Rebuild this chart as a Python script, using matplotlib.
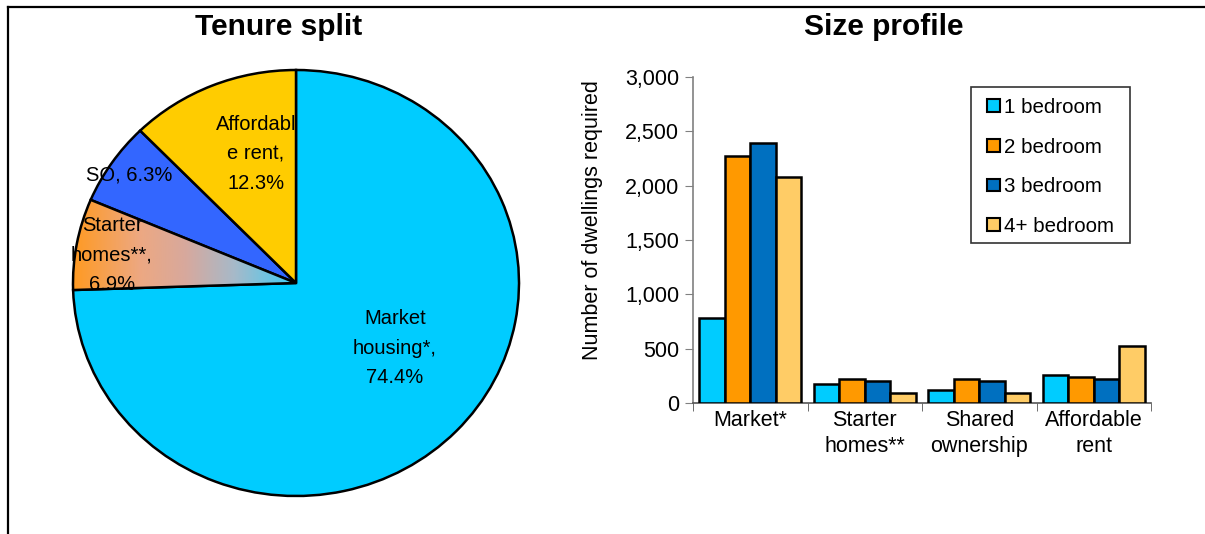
import numpy as np
import matplotlib
matplotlib.use("Agg")
import matplotlib.pyplot as plt
from matplotlib.colors import LinearSegmentedColormap
from matplotlib.patches import Patch, Rectangle
from matplotlib.lines import Line2D
from matplotlib.legend_handler import HandlerPatch

plt.rcParams['font.family'] = ['Liberation Sans', 'DejaVu Sans']

# ---- data ----
pie_labels = ["Market\nhousing*,\n74.4%", "Starter\nhomes**,\n6.9%", "SO, 6.3%", "Affordabl\ne rent,\n12.3%"]
pie_values = [74.4, 6.9, 6.3, 12.3]
pie_colors = ["#00CCFF", "#F0A060", "#3366FF", "#FFCC00"]

categories = ["Market*", "Starter\nhomes**", "Shared\nownership", "Affordable\nrent"]
series_names = ["1 bedroom", "2 bedroom", "3 bedroom", "4+ bedroom"]
one_bed = [780, 175, 120, 262]
two_bed = [2270, 220, 220, 240]
three_bed = [2390, 205, 205, 218]
four_bed = [2080, 92, 88, 524]
bar_colors = ["#00CCFF", "#FF9900", "#0070C0", "#FFCC66"]

W, H = 1205, 534
fig = plt.figure(figsize=(W / 100, H / 100), dpi=100)

def fx(px):
    return px / W

def fy(py):
    return 1 - py / H

# border lines
fig.add_artist(Line2D([fx(8), fx(8)], [fy(7), 0], color="black", lw=1.6, transform=fig.transFigure))
fig.add_artist(Line2D([fx(8), 1], [fy(7), fy(7)], color="black", lw=1.6, transform=fig.transFigure))

# ---- pie ----
cx, cy, rx, ry = 296, 283, 223, 213
axp = fig.add_axes([fx(cx - rx), fy(cy + ry), fx(2 * rx), (2 * ry) / H])
wedges, _ = axp.pie(pie_values, colors=pie_colors, startangle=90, counterclock=False,
                    wedgeprops=dict(edgecolor="black", linewidth=1.8))
axp.set_aspect('auto')
axp.set_axis_off()

# gradient fill for starter homes wedge
grad_cmap = LinearSegmentedColormap.from_list(
    "g", [(0.0, "#FF9A22"), (0.3, "#EDA882"), (0.5, "#D8A89C"), (0.72, "#A8B9C8"), (1.0, "#3FCDF6")])
gx = np.linspace(0, 1, 256).reshape(1, -1)
im = axp.imshow(gx, cmap=grad_cmap, extent=[-1.0, 0.0, -0.1, 0.6], aspect='auto', zorder=1.5)
im.set_clip_path(wedges[1])
wedges[1].set_facecolor("none")
wedges[1].set_zorder(2)
axp.set_xlim(-1, 1)
axp.set_ylim(-1, 1)

def to_data(px, py):
    return ((px - cx) / rx, (cy - py) / ry)

lab_pos = [(395, 348), (112, 255), (129, 175), (256, 154)]
for lab, (px, py) in zip(pie_labels, lab_pos):
    x, y = to_data(px, py)
    axp.text(x, y, lab, ha="center", va="center", fontsize=14.5, linespacing=1.7, zorder=5)

fig.text(fx(279), fy(27), "Tenure split", ha="center", va="center", fontsize=21.5, fontweight="bold")
fig.text(fx(884), fy(27), "Size profile", ha="center", va="center", fontsize=21.5, fontweight="bold")

# ---- bars ----
ax_l, ax_r, ax_t, ax_b = 693, 1151, 77, 403
ax_w = ax_r - ax_l
ax_h = ax_b - ax_t
axb = fig.add_axes([fx(ax_l), fy(ax_b), fx(ax_w), ax_h / H])
series = [one_bed, two_bed, three_bed, four_bed]
x = np.arange(len(categories))
bw = 0.222
for i, (vals, col, name) in enumerate(zip(series, bar_colors, series_names)):
    axb.bar(x + (i - 1.5) * bw, vals, bw, color=col, edgecolor="black", linewidth=1.8, label=name, zorder=3)

axb.set_xlim(-0.5, len(categories) - 0.5)
axb.set_ylim(0, 3000)
axb.set_yticks(np.arange(0, 3001, 500))
axb.set_yticklabels([f"{v:,}" for v in range(0, 3001, 500)])
axb.set_xticks(x)
axb.set_xticklabels(categories, linespacing=1.3)
axb.set_xticks(np.arange(-0.5, len(categories), 1), minor=True)
axb.tick_params(axis="x", which="major", length=0, pad=5, labelsize=15.5)
axb.tick_params(axis="x", which="minor", length=6, direction="out", color="#555555")
axb.tick_params(axis="y", length=6, direction="out", color="#808080", labelsize=15.5, pad=4)
for s in ["top", "right"]:
    axb.spines[s].set_visible(False)
axb.spines["left"].set_color("#808080")
axb.spines["bottom"].set_color("#555555")
axb.spines["left"].set_linewidth(1.2)
axb.spines["bottom"].set_linewidth(1.2)
axb.set_ylabel("Number of dwellings required", fontsize=15.5)
axb.yaxis.set_label_coords((603 - ax_l) / ax_w, 1 - (220 - ax_t) / ax_h)

# legend
leg_fs = 14.8
def small_square(legend, orig_handle, xdescent, ydescent, width, height, fontsize):
    s = 0.62 * fontsize
    return Rectangle((-xdescent + width - s, -ydescent + (height - s) / 2), s, s)

handles = [Patch(facecolor=c, edgecolor="black", linewidth=1.5) for c in bar_colors]
anchor_x = (971 + 8 - ax_l) / ax_w
anchor_y = 1 - (105 - 7 - ax_t) / ax_h
leg = axb.legend(handles, series_names, loc="upper left", bbox_to_anchor=(anchor_x, anchor_y),
                 fontsize=leg_fs, frameon=False,
                 handlelength=1.0, handleheight=0.7, handletextpad=0.2, labelspacing=1.0,
                 borderpad=0, borderaxespad=0,
                 handler_map={Patch: HandlerPatch(patch_func=small_square)})
fig.add_artist(Rectangle((fx(971), fy(243)), fx(1130 - 971), (243 - 87) / H, transform=fig.transFigure,
                         facecolor="none", edgecolor="#333333", linewidth=1.2))

fig.savefig("out.png", dpi=100)
